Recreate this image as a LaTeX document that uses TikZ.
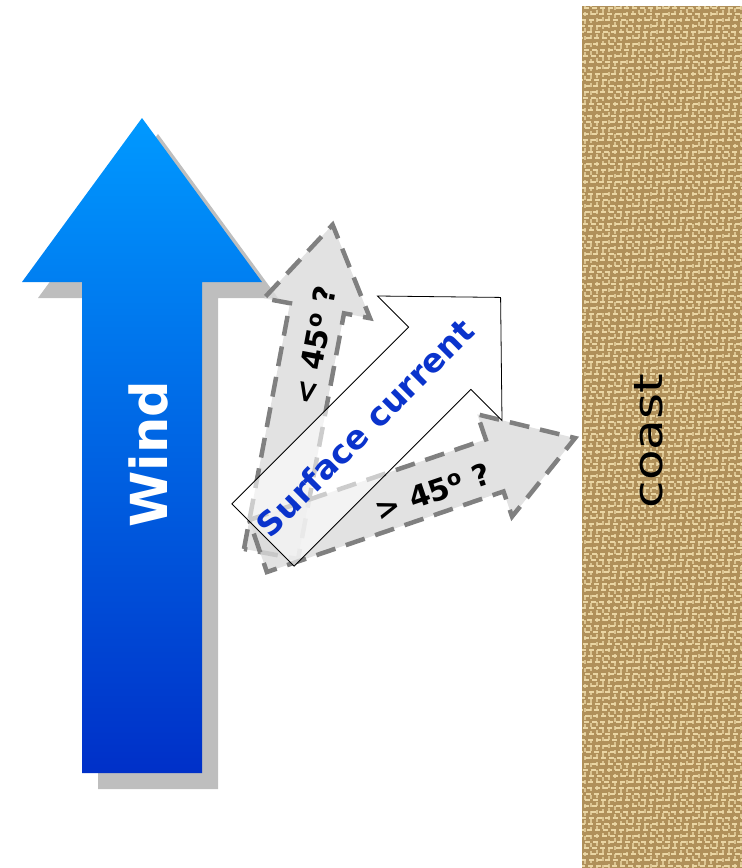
\documentclass[tikz,border=0pt]{standalone}
\usepackage{fontspec}
\setmainfont{DejaVu Sans}
\usepackage{graphicx}
\usetikzlibrary{positioning}
\definecolor{windtop}{HTML}{0099FF}
\definecolor{windbot}{HTML}{0030C8}
\definecolor{shadowgray}{HTML}{BEBEBE}
\definecolor{guessfill}{HTML}{DBDBDB}
\definecolor{guessline}{HTML}{808080}
\definecolor{currentblue}{HTML}{0A33CC}
\definecolor{burlap}{HTML}{B0905A}
\definecolor{thread}{HTML}{EAD6A4}

\begin{document}
\begin{tikzpicture}[
    x=1pt, y=-1pt,
    every node/.style={inner sep=0pt},
    guess/.style={fill=guessfill, fill opacity=0.8, draw=guessline,
                  line width=4.5pt, dash pattern=on 20pt off 11pt},
    current/.style={fill=white, fill opacity=0.6, draw=black, line width=0.8pt},
    guesstext/.style={font=\bfseries\fontsize{30}{34}\selectfont},
  ]
  \useasboundingbox (0,0) rectangle (742,868);

  % coast
  \fill[burlap] (582,6) rectangle (742,868);
  \begin{scope}
    \clip (582,6) rectangle (742,868);
    \foreach \y [evaluate=\y as \off using {mod(\y,7)}] in {8,14,...,868}
      \draw[thread, line width=2.5pt, dash pattern=on 5pt off 3pt] (575+\off,\y) -- (742,\y);
    \foreach \x [evaluate=\x as \off using {mod(\x,7)}] in {585,591,...,742}
      \draw[thread, opacity=0.75, line width=2.5pt, dash pattern=on 4pt off 4pt] (\x,\off) -- (\x,868);
  \end{scope}
  \node[rotate=90, font=\fontsize{40}{48}\selectfont] (coast) at (649,441) {\scalebox{1.25}[1]{coast}};

  % wind
  \fill[shadowgray, shift={(16,16)}]
    (142,118) -- (262,282) -- (202,282) -- (202,773) -- (82,773) -- (82,282) -- (22,282) -- cycle;
  \shade[top color=windtop, bottom color=windbot]
    (142,118) -- (262,282) -- (202,282) -- (202,773) -- (82,773) -- (82,282) -- (22,282) -- cycle;
  \node[text=white, rotate=90, font=\bfseries\fontsize{51}{60}\selectfont] (wind) at (148,454) {Wind};

  % less than 45
  \begin{scope}[shift={(271,554)}, rotate=79.4]
    \draw[guess] (0,-27.5) -- (250,-27.5) -- (250,-54) -- (335,0) -- (250,54) -- (250,27.5) -- (0,27.5) -- cycle;
    \node[guesstext, rotate=79.4] (less) at (213,5) {< 45\textsuperscript{o} ?};
  \end{scope}

  % more than 45
  \begin{scope}[shift={(258,546)}, rotate=18.8]
    \draw[guess] (0,-27.5) -- (250,-27.5) -- (250,-54) -- (335,0) -- (250,54) -- (250,27.5) -- (0,27.5) -- cycle;
    \node[guesstext, rotate=18.8] (more) at (183,5) {> 45\textsuperscript{o} ?};
  \end{scope}

  % surface current
  \begin{scope}[shift={(263,535)}, rotate=45]
    \draw[current] (0,-44) -- (250,-44) -- (250,-88) -- (336,0) -- (250,88) -- (250,44) -- (0,44) -- cycle;
    \node[text=currentblue, rotate=45, font=\bfseries\fontsize{33}{38}\selectfont] (surface) at (148,-4) {Surface current};
  \end{scope}
\end{tikzpicture}
\end{document}
